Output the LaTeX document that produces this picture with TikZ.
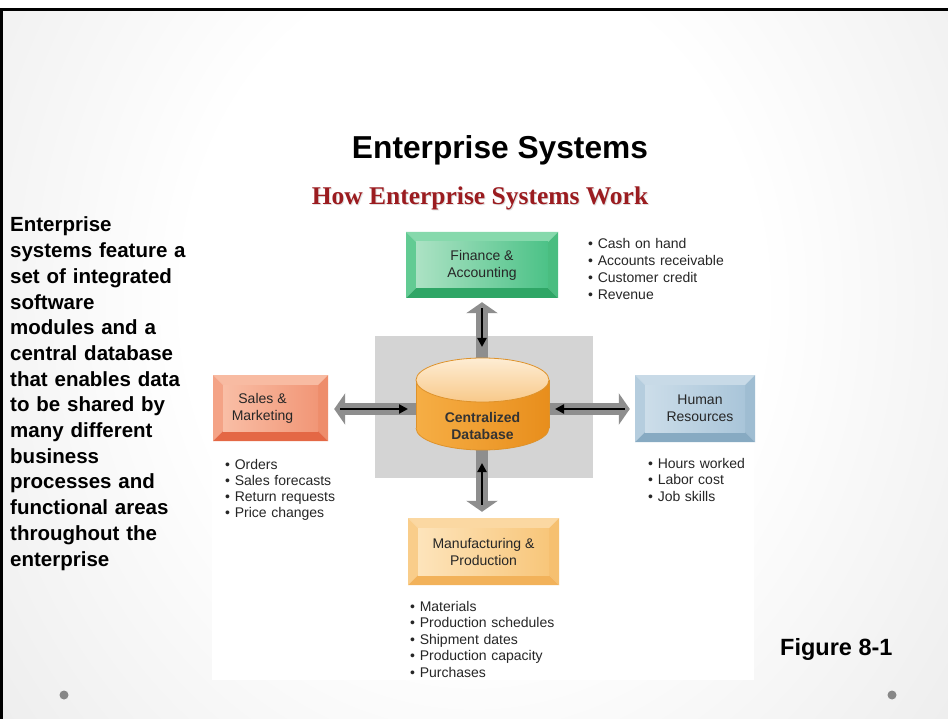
\documentclass[tikz,border=0pt]{standalone}
\usepackage{fontspec}
\setmainfont{Liberation Sans}
\newfontfamily\subtitlefont{Liberation Serif}
\usetikzlibrary{arrows.meta}
\definecolor{subred}{HTML}{9B1C20}
\definecolor{hubgrey}{HTML}{D4D4D4}
\definecolor{arrgrey}{HTML}{8E8E8E}
\definecolor{dotgrey}{HTML}{878787}
\definecolor{cylL}{HTML}{F6AE45}
\definecolor{cylM}{HTML}{F8BC5A}
\definecolor{cylR}{HTML}{E88E1C}
\definecolor{cylEdge}{HTML}{DE922A}
\definecolor{cylT1}{HTML}{FEEDD4}
\definecolor{cylT2}{HTML}{F8C98A}
% finance
\definecolor{finT}{HTML}{86D9AC}
\definecolor{finL}{HTML}{62CB93}
\definecolor{finR}{HTML}{4ABD80}
\definecolor{finB}{HTML}{2FA666}
\definecolor{finF1}{HTML}{ACE2C4}
\definecolor{finF2}{HTML}{4CC287}
% sales
\definecolor{salT}{HTML}{F8BBA2}
\definecolor{salL}{HTML}{F4A386}
\definecolor{salR}{HTML}{EE8D6B}
\definecolor{salB}{HTML}{E46845}
\definecolor{salF1}{HTML}{F9BEA6}
\definecolor{salF2}{HTML}{F19676}
% hr
\definecolor{hrT}{HTML}{C8DAE7}
\definecolor{hrL}{HTML}{B5CDDE}
\definecolor{hrR}{HTML}{9FBDD2}
\definecolor{hrB}{HTML}{87AAC2}
\definecolor{hrF1}{HTML}{CCDDE9}
\definecolor{hrF2}{HTML}{A9C5D9}
% manufacturing
\definecolor{mfgT}{HTML}{FBD8A2}
\definecolor{mfgL}{HTML}{F9CD8A}
\definecolor{mfgR}{HTML}{F6C070}
\definecolor{mfgB}{HTML}{F2B25A}
\definecolor{mfgF1}{HTML}{FDE4BB}
\definecolor{mfgF2}{HTML}{F8C67A}
\pgfdeclareradialshading{slidebg}{\pgfpoint{0bp}{0bp}}{color(0bp)=(white); color(14bp)=(white); color(34bp)=(black!9); color(48bp)=(black!16); color(60bp)=(black!19); color(75bp)=(black!22)}
\newcommand\bevelbox[8]{%
  \fill[#6T] (#2,#3) -- (#4,#3) -- (#4-10,#3+10) -- (#2+10,#3+10) -- cycle;
  \fill[#6L] (#2,#3) -- (#2+10,#3+10) -- (#2+10,#5-10) -- (#2,#5) -- cycle;
  \fill[#6R] (#4,#3) -- (#4,#5) -- (#4-10,#5-10) -- (#4-10,#3+10) -- cycle;
  \fill[#6B] (#2,#5) -- (#2+10,#5-10) -- (#4-10,#5-10) -- (#4,#5) -- cycle;
  \shade[left color=#6F1, right color=#6F2] (#2+10,#3+10) rectangle (#4-10,#5-10);
  \node[inner sep=0pt, minimum width=#4-#2, minimum height=#5-#3] (#1) at ({(#2+#4)/2},{(#3+#5)/2}) {};
  \node[boxtext, xshift=#8] (#1text) at (#1.center) {#7};
}
\begin{document}
\begin{tikzpicture}[x=1pt,y=-1pt,
  boxtext/.style={inner sep=0pt, align=center, text=black!85, font=\fontsize{14}{17}\selectfont},
  bullets/.style={inner sep=0pt, text width=220pt, align=left, anchor=base west, text=black!85},
  greyarr/.style={draw=arrgrey, line width=12pt, -{Triangle[width=31pt,length=11pt]}},
  blackarr/.style={draw=black, line width=2.6pt, -{Triangle[width=9pt,length=9pt]}},
  dot/.style={circle, fill=dotgrey, inner sep=0pt, minimum size=9pt}]
\useasboundingbox (0,0) rectangle (948,719);
% slide background
\fill[white] (0,0) rectangle (948,719);
\begin{scope}
  \clip (0,10) rectangle (948,719);
  \shade[shading=slidebg] (-40,-300) rectangle (988,900);
\end{scope}
\fill[black] (0,8) rectangle (948,11);
\fill[black] (0,8) rectangle (3,719);
% figure white area
\fill[white] (212,178) rectangle (754,680);
% titles
\node[inner sep=0pt, anchor=base, font=\fontsize{31.7}{36}\selectfont\bfseries] (title) at (500,159) {Enterprise Systems};
\node[inner sep=0pt, anchor=base, text=black!12, font=\subtitlefont\fontsize{25.5}{28}\selectfont\bfseries] (subshadow) at (481,206) {How Enterprise Systems Work};
\node[inner sep=0pt, anchor=base, text=subred, font=\subtitlefont\fontsize{25.5}{28}\selectfont\bfseries] (subtitle) at (480,205) {How Enterprise Systems Work};
% left paragraph
\node[inner sep=0pt, text width=200pt, align=left, anchor=base west, font=\fontsize{20.5}{25.7}\selectfont\bfseries] (para) at (10,232) {Enterprise\\ systems feature a\\ set of integrated\\ software\\ modules and a\\ central database\\ that enables data\\ to be shared by\\ many different\\ business\\ processes and\\ functional areas\\ throughout the\\ enterprise};
\node[inner sep=0pt, anchor=base west, font=\fontsize{23.5}{28}\selectfont\bfseries] (figlabel) at (780,655) {Figure 8-1};
\node[dot] (dotl) at (64,695) {};
\node[dot] (dotr) at (892,695) {};
% hub background
\node[fill=hubgrey, inner sep=0pt, minimum width=218, minimum height=142] (hubbg) at (484,407) {};
% boxes
\bevelbox{fin}{406}{232}{558}{298}{fin}{Finance \&\\ Accounting}{0pt}
\bevelbox{sales}{213}{375}{328}{441}{sal}{Sales \&\\ Marketing}{-8pt}
\bevelbox{hr}{635}{375}{755}{442}{hr}{Human\\ Resources}{5pt}
\bevelbox{mfg}{408}{518}{559}{585}{mfg}{Manufacturing \&\\ Production}{0pt}
% database node (geometry)
\node[inner sep=0pt, minimum width=133, minimum height=92] (db) at (482.5,404) {};
\coordinate (hub) at (482,409);
\coordinate (dbN) at (482,347);
\coordinate (dbS) at (482,463);
\coordinate (dbW) at (408,409);
\coordinate (dbE) at (555,409);
% grey arrows
\draw[greyarr, shorten >=4pt] (hub) -- (hub |- fin.south);
\draw[greyarr, shorten >=6pt] (hub) -- (hub |- mfg.north);
\draw[greyarr, shorten >=6pt] (hub) -- (hub -| sales.east);
\draw[greyarr, shorten >=5pt] (hub) -- (hub -| hr.west);
% cylinder
\shade[left color=cylL, middle color=cylM, right color=cylR] (416,380) rectangle (549,428);
\shade[left color=cylL, middle color=cylM, right color=cylR] (482.5,428) ellipse [x radius=66.5, y radius=22];
\begin{scope}
  \clip (0,428) rectangle (948,719);
  \draw[cylEdge, line width=0.8pt] (482.5,428) ellipse [x radius=66.5, y radius=22];
\end{scope}
\draw[cylEdge, line width=0.8pt] (416,380) -- (416,428) (549,380) -- (549,428);
\shade[top color=cylT1, bottom color=cylT2] (482.5,380) ellipse [x radius=66.5, y radius=22];
\draw[cylEdge, line width=0.8pt] (482.5,380) ellipse [x radius=66.5, y radius=22];
\node[inner sep=0pt, align=center, text=black!80, font=\fontsize{14}{17}\selectfont\bfseries] (dbtext) at (482.5,426) {Centralized\\ Database};
% black arrows
\draw[blackarr, shorten <=10pt] (hub |- fin.south) -- (dbN);
\draw[blackarr, shorten <=13pt] (hub |- mfg.north) -- (dbS);
\draw[blackarr, shorten <=12pt] (hub -| sales.east) -- (dbW);
\draw[blackarr, shorten <=10pt] (hub -| hr.west) -- (dbE);
% bullet lists
\node[bullets, font=\fontsize{14}{17}\selectfont] (finlist) at (588,249) {• Cash on hand\\ • Accounts receivable\\ • Customer credit\\ • Revenue};
\node[bullets, font=\fontsize{14}{16.3}\selectfont] (sallist) at (225,469) {• Orders\\ • Sales forecasts\\ • Return requests\\ • Price changes};
\node[bullets, font=\fontsize{14}{16.5}\selectfont] (hrlist) at (648,468) {• Hours worked\\ • Labor cost\\ • Job skills};
\node[bullets, font=\fontsize{14}{16.5}\selectfont] (mfglist) at (410,611) {• Materials\\ • Production schedules\\ • Shipment dates\\ • Production capacity\\ • Purchases};
\end{tikzpicture}
\end{document}
